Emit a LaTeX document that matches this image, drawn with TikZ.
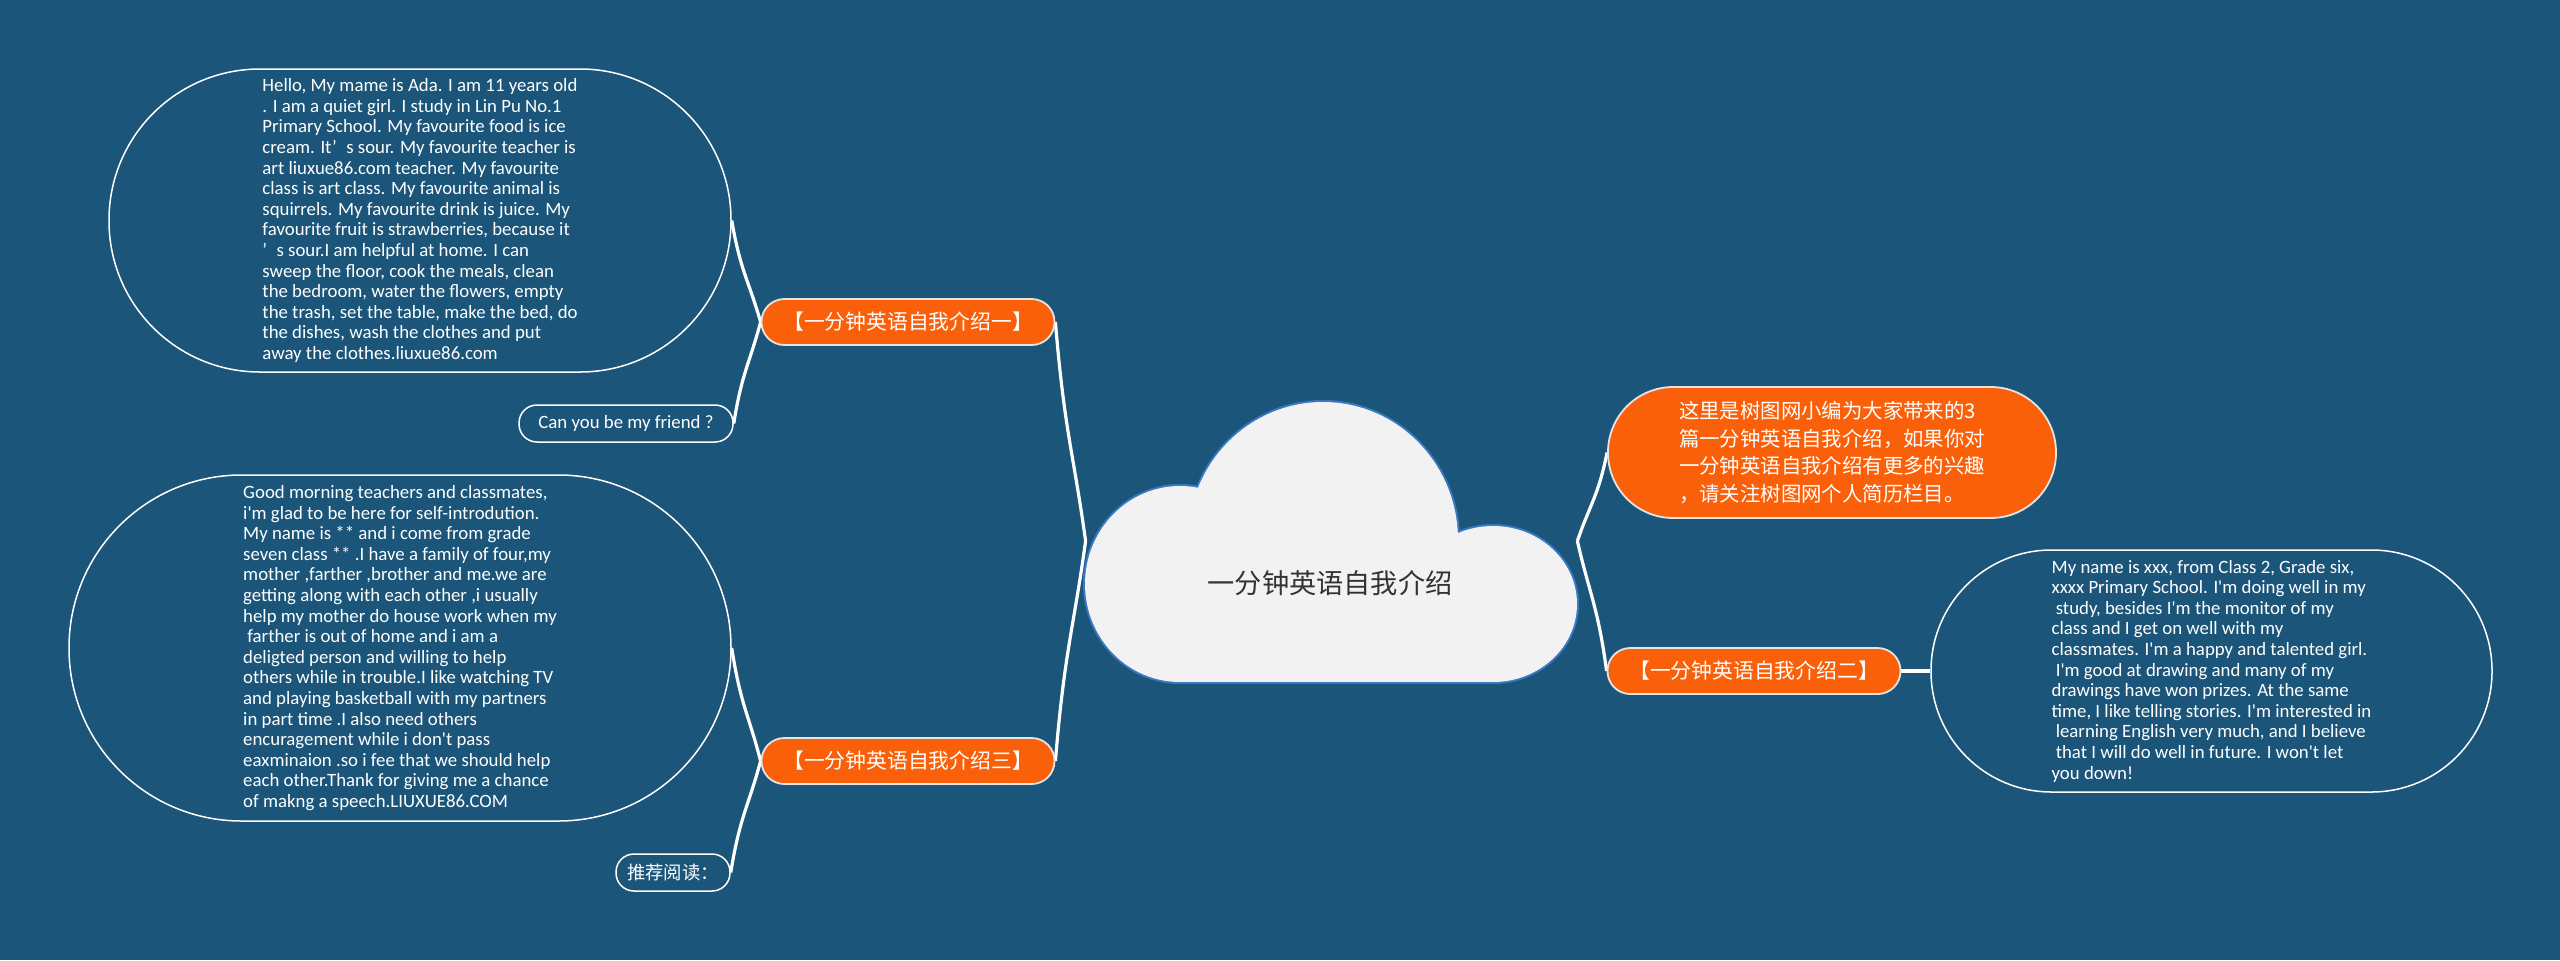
\documentclass[tikz,border=0pt]{standalone}
\usepackage{fontspec}
\newfontfamily\latin{Carlito}
\newfontfamily\cjk{Noto Sans CJK SC}
\usetikzlibrary{calc}
\definecolor{bgc}{RGB}{27,85,121}
\definecolor{orc}{RGB}{250,96,10}
\definecolor{cloudc}{RGB}{242,242,242}
\definecolor{cloudb}{RGB}{58,120,196}
\definecolor{titc}{RGB}{51,51,51}
\definecolor{obord}{RGB}{228,228,228}
\pgfdeclarelayer{bg}
\pgfsetlayers{bg,main}
\newcommand\lsp{\hspace*{0.22em}}
\begin{document}
\begin{tikzpicture}[x=0.5pt,y=-0.5pt,
  mm/.style={to path={let \p1=(\tikztostart), \p2=(\tikztotarget) in
     .. controls (0.6*\x1+0.4*\x2, 0.6*\y1+0.4*\y2) and (0.7*\x2+0.3*\x1, 0.5*\y2+0.5*\y1) .. (\tikztotarget)}},
  conn/.style={draw=white, line width=1.6pt},
  oval/.style={draw=white, line width=0.75pt, text=white, align=left, inner sep=0pt,
     font=\latin\fontsize{9.4pt}{10.3pt}\selectfont},
  pill/.style={draw=white, line width=0.75pt, text=white, inner sep=0pt,
     minimum height=18.5pt, rounded corners=9pt},
  orng/.style={fill=orc, draw=obord, line width=0.9pt, text=white, inner sep=0pt,
     font=\cjk\fontsize{10.4pt}{12pt}\selectfont},
  branch/.style={orng, minimum width=146.5pt, minimum height=23pt, rounded corners=11.4pt},
  cshape/.style={draw=cloudb, line width=2pt},
  cfill/.style={fill=cloudc}
]
\useasboundingbox (0,0) rectangle (2560,960);

% cloud
\foreach \st in {cshape,cfill}{
  \path[\st] (1180,584) ellipse [x radius=47.5pt, y radius=49pt];
  \path[\st] (1323,540) ellipse [x radius=67.5pt, y radius=69pt];
  \path[\st] (1493,604) ellipse [x radius=42pt, y radius=39pt];
  \path[\st] (1180,560) rectangle (1493,682);
}
\node[minimum width=245.5pt, minimum height=140.5pt, inner sep=0pt] (cloud) at (1331.5,541) {};
\node[text=titc, font=\cjk\fontsize{13.6pt}{16pt}\selectfont, inner sep=0pt] (title) at (1330,583) {一分钟英语自我介绍};

% left branch 1
\node[branch] (b1) at (908,322) {【一分钟英语自我介绍一】};
\node[oval, minimum width=311pt, minimum height=151.5pt, rounded corners=75.5pt] (o1) at (420,220.5)
{Hello, My mame is Ada. I am 11 years old\\
. I am a quiet girl. I study in Lin Pu No.1\\
Primary School. My favourite food is ice\\
cream. It’\hspace{0.5em}s sour. My favourite teacher is\\
art liuxue86.com teacher. My favourite\\
class is art class. My favourite animal is\\
squirrels. My favourite drink is juice. My\\
favourite fruit is strawberries, because it\\
’\hspace{0.5em}s sour.I am helpful at home. I can\\
sweep the floor, cook the meals, clean\\
the bedroom, water the flowers, empty\\
the trash, set the table, make the bed, do\\
the dishes, wash the clothes and put\\
away the clothes.liuxue86.com};
\node[pill, minimum width=107pt, font=\latin\fontsize{9.4pt}{10.3pt}\selectfont] (fr) at (626,423.5) {Can you be my friend ?};

% left branch 3
\node[branch] (b3) at (908,761) {【一分钟英语自我介绍三】};
\node[oval, minimum width=331pt, minimum height=173pt, rounded corners=86.3pt] (o3) at (400,648)
{Good morning teachers and classmates,\\
i'm glad to be here for self-introdution.\\
My name is ** and i come from grade\\
seven class ** .I have a family of four,my\\
mother ,farther ,brother and me.we are\\
getting along with each other ,i usually\\
help my mother do house work when my\\
\lsp farther is out of home and i am a\\
deligted person and willing to help\\
others while in trouble.I like watching TV\\
and playing basketball with my partners\\
in part time .I also need others\\
encuragement while i don't pass\\
eaxminaion .so i fee that we should help\\
each other.Thank for giving me a chance\\
of makng a speech.LIUXUE86.COM};
\node[pill, minimum width=57pt, font=\cjk\fontsize{9.2pt}{11pt}\selectfont] (rd) at (673,872.5) {推荐阅读：};

% right side
\node[orng, minimum width=224pt, minimum height=65.5pt, rounded corners=32.6pt, align=left,
  font=\cjk\fontsize{10.2pt}{13.9pt}\selectfont] (info) at (1832,452.5)
{这里是树图网小编为大家带来的3\\
篇一分钟英语自我介绍，如果你对\\
一分钟英语自我介绍有更多的兴趣\hspace*{10pt}\\
，请关注树图网个人简历栏目。};
\node[branch] (b2) at (1754,671) {【一分钟英语自我介绍二】};
\node[oval, minimum width=280.5pt, minimum height=121pt, rounded corners=60.3pt] (o2) at (2211.5,671)
{My name is xxx, from Class 2, Grade six,\\
xxxx Primary School. I'm doing well in my\\
\lsp study, besides I'm the monitor of my\\
class and I get on well with my\\
classmates. I'm a happy and talented girl.\\
\lsp I'm good at drawing and many of my\\
drawings have won prizes. At the same\\
time, I like telling stories. I'm interested in\\
\lsp learning English very much, and I believe\\
\lsp that I will do well in future. I won't let\\
you down!};

\begin{pgfonlayer}{bg}
\fill[bgc] (0,0) rectangle (2560,960);
\draw[conn] (cloud.west) to[mm] (b1.east);
\draw[conn] (cloud.west) to[mm] (b3.east);
\draw[conn] (b1.west) to[mm] (o1.east);
\draw[conn] (b1.west) to[mm] (fr.east);
\draw[conn] (b3.west) to[mm] (o3.east);
\draw[conn] (b3.west) to[mm] (rd.east);
\draw[conn] (cloud.east) to[mm] (info.west);
\draw[conn] (cloud.east) to[mm] (b2.west);
\draw[conn] (b2.east) -- (o2.west);
\end{pgfonlayer}
\end{tikzpicture}
\end{document}
